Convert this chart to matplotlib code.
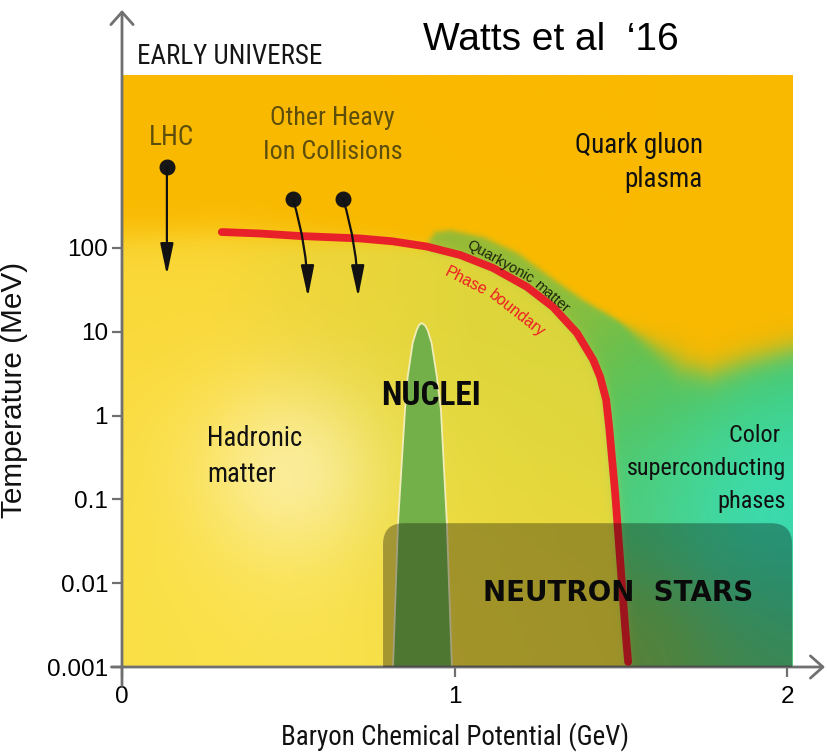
import numpy as np
import matplotlib
matplotlib.use("Agg")
import matplotlib.pyplot as plt
from matplotlib import font_manager
from matplotlib.patches import Polygon, FancyBboxPatch

# ---- phase boundary (baryon chemical potential in GeV, temperature in MeV)
mu_boundary = [0.30, 0.415, 0.535, 0.716, 0.815, 0.917, 1.017, 1.116, 1.218,
               1.296, 1.368, 1.417, 1.438, 1.456, 1.465, 1.483, 1.498, 1.513, 1.522]
T_boundary = [155, 149, 139, 130, 120, 104, 82.5, 57.7, 34.3,
              19.8, 9.69, 4.61, 2.89, 1.54, 0.731, 0.119, 0.0189, 0.0030, 0.00115]

# ---- nuclei region (left edge bottom->top, right edge top->bottom)
mu_nuclei = [0.815, 0.830, 0.851, 0.859, 0.874, 0.886, 0.893, 0.901,
             0.911, 0.919, 0.931, 0.947, 0.959, 0.977, 0.992]
T_nuclei = [0.001, 0.052, 1.17, 2.89, 7.35, 10.5, 12.0, 12.7,
            12.0, 10.5, 7.35, 2.89, 1.17, 0.052, 0.001]

# ---- neutron star window
mu_ns = (0.785, 2.015)
T_ns_top = 0.052

# ---- upper edge of the quarkyonic / colour superconducting region
mu_wave = [0.535, 0.911, 0.923, 0.941, 0.986, 1.086, 1.189, 1.287, 1.386,
           1.489, 1.588, 1.687, 1.768, 1.889, 2.009]
lt_wave = [1.379, 1.916, 2.095, 2.191, 2.215, 2.131, 1.940, 1.654, 1.379,
           1.141, 0.866, 0.592, 0.508, 0.663, 0.783]

# ---- collision trajectories: (mu, T start) -> (mu, T end)
lhc = ((0.135, 927.0), (0.135, 47.7))
heavy_ion = [((0.514, 385.0), (0.559, 26.0)),
             ((0.665, 385.0), (0.710, 26.0))]

yticks = [1e-3, 1e-2, 1e-1, 1, 10, 100]
ytick_labels = ["0.001", "0.01", "0.1", "1", "10", "100"]
xticks = [0, 1, 2]
xtick_labels = ["0", "1", "2"]

# ---- layout
W, H, DPI = 8.27, 7.52, 100
RECT = [122 / 827, 85 / 752, 703 / 827, 657 / 752]
XMAX = 2.114
LT_MIN, LT_MAX = -3.0, 4.84
MU_EDGE, LT_EDGE = 2.015, 4.064
PX_MU = RECT[2] * W * DPI / XMAX
PX_LT = RECT[3] * H * DPI / (LT_MAX - LT_MIN)
SANS = "Liberation Sans"


def condensed_font():
    fl = font_manager.fontManager.ttflist
    names = {f.name for f in fl}
    for n in ("Liberation Sans Narrow", "Arial Narrow", "Roboto Condensed",
              "Noto Sans Condensed", "Open Sans Condensed"):
        if n in names:
            return dict(family=n)
    for n in ("Noto Sans", "Roboto", "Open Sans"):
        if any(f.name == n and "condensed" in str(f.stretch) for f in fl):
            return dict(family=n, stretch="condensed")
    return dict(family=SANS)


NARROW = condensed_font()


def sigmoid(z):
    return 1.0 / (1.0 + np.exp(-np.clip(z, -40, 40)))


def poly_dist(M, L, xs, ls):
    """distance (display pixels) from grid points to a polyline"""
    px, py = M * PX_MU, L * PX_LT
    xs = np.asarray(xs) * PX_MU
    ys = np.asarray(ls) * PX_LT
    d = np.full(M.shape, np.inf)
    for i in range(len(xs) - 1):
        x0, y0, x1, y1 = xs[i], ys[i], xs[i + 1], ys[i + 1]
        vx, vy = x1 - x0, y1 - y0
        t = np.clip(((px - x0) * vx + (py - y0) * vy) / (vx * vx + vy * vy), 0, 1)
        d = np.minimum(d, np.hypot(px - x0 - t * vx, py - y0 - t * vy))
    return d


def rbf_colour(M, L, anchors, sigma):
    num = np.zeros(M.shape + (3,))
    den = np.zeros(M.shape)
    for (m0, l0), c in anchors:
        w = np.exp(-(((M - m0) * PX_MU) ** 2 + ((L - l0) * PX_LT) ** 2) / (2 * sigma ** 2))
        num += w[..., None] * np.array(c, float)
        den += w
    return num / den[..., None]


# ---- background colour field
nx, ny = 600, 560
M, L = np.meshgrid(np.linspace(0, MU_EDGE, nx), np.linspace(LT_MIN, LT_EDGE, ny))

lb = np.log10(T_boundary)
xb = np.r_[-0.5, mu_boundary, 1.53]
yb = np.r_[2.08, lb, -4.0]
inside = L < np.interp(M, xb, yb, right=-np.inf)
d_pb = poly_dist(M, L, xb, yb)
w_pb = np.interp(M, [0, 0.35, 0.7, 1.0, 2.0], [10, 10, 5, 2.5, 2.5])
h = sigmoid(np.where(inside, d_pb, -d_pb) / w_pb)

xw = np.r_[-0.5, mu_wave]
yw = np.r_[1.0, lt_wave]
below = L < np.interp(M, xw, yw)
d_w = poly_dist(M, L, xw, yw)
w_w = np.interp(M, [0, 1.5, 1.68, 2.1], [1.5, 1.5, 8, 8])
g = sigmoid(np.where(below, d_w, -d_w) / w_w)

hadron = rbf_colour(M, L, [
    ((0.054, 1.379), (250, 216, 56)),
    ((0.054, -0.500), (250, 222, 68)),
    ((0.054, -2.678), (250, 224, 70)),
    ((0.535, -2.678), (250, 226, 78)),
    ((0.776, 1.379), (240, 214, 58)),
    ((1.077, 1.260), (214, 212, 58)),
    ((1.317, -0.053), (220, 214, 60)),
    ((1.377, -1.723), (230, 215, 60)),
    ((1.077, -2.200), (242, 218, 60)),
    ((1.017, -0.410), (234, 219, 64)),
], 75)
glow = 0.75 * np.exp(-(((M - 0.505) * PX_MU) ** 2 + ((L + 0.649) * PX_LT) ** 2) / (2 * 65 ** 2))
hadron = hadron * (1 - glow[..., None]) + np.array([253, 242, 180]) * glow[..., None]

green = rbf_colour(M, L, [
    ((0.971, 2.095), (150, 186, 54)),
    ((1.317, 1.475), (148, 190, 58)),
    ((1.558, 0.902), (115, 190, 70)),
    ((1.588, -0.053), (85, 195, 90)),
    ((1.738, 0.305), (78, 196, 98)),
    ((1.949, 0.544), (68, 198, 108)),
    ((1.919, -0.768), (55, 228, 192)),
    ((1.850, -1.000), (60, 225, 185)),
    ((2.000, -0.450), (60, 215, 160)),
    ((1.708, -0.768), (68, 214, 150)),
    ((1.588, -1.126), (80, 200, 115)),
    ((1.950, -1.900), (50, 205, 170)),
    ((1.900, -2.700), (95, 200, 115)),
    ((1.600, -2.600), (130, 190, 80)),
], 55)
orange = np.array([250, 185, 0], float)

quark = g[..., None] * green + (1 - g[..., None]) * orange
field = h[..., None] * hadron + (1 - h[..., None]) * quark
field = np.clip(field / 255.0, 0, 1)

# ---- figure
fig = plt.figure(figsize=(W, H), dpi=DPI)
ax_bg = fig.add_axes(RECT, zorder=0)
ax_bg.imshow(field, origin="lower", extent=(0, MU_EDGE, LT_MIN, LT_EDGE),
             aspect="auto", interpolation="bilinear")
ax_bg.set_xlim(0, XMAX)
ax_bg.set_ylim(LT_MIN, LT_MAX)
ax_bg.axis("off")

ax = fig.add_axes(RECT, zorder=1)
ax.patch.set_alpha(0)
ax.set_yscale("log")
ax.set_xlim(0, XMAX)
ax.set_ylim(10 ** LT_MIN, 10 ** LT_MAX)
for s in ax.spines.values():
    s.set_visible(False)

axis_grey = "#707070"
ax.set_yticks(yticks, ytick_labels)
ax.set_xticks(xticks, xtick_labels)
ax.minorticks_off()
ax.tick_params(axis="y", direction="out", length=7, width=1.6, color=axis_grey,
               pad=3, labelsize=17.5, labelfontfamily=SANS)
ax.tick_params(axis="x", direction="out", length=7, width=1.6, color=axis_grey,
               pad=7, labelsize=17.5, labelfontfamily=SANS)

# axes drawn as arrows
arrow_kw = dict(arrowstyle="->,head_length=0.45,head_width=0.4", color=axis_grey,
                lw=2.0, mutation_scale=20, shrinkA=0, shrinkB=0)
ax.annotate("", xy=(0, 1.0), xytext=(0, -0.028), xycoords="axes fraction",
            arrowprops=arrow_kw, annotation_clip=False)
ax.annotate("", xy=(1.0, 0), xytext=(-0.015, 0), xycoords="axes fraction",
            arrowprops=arrow_kw, annotation_clip=False)

# nuclei
ax.add_patch(Polygon(np.column_stack([mu_nuclei, T_nuclei]), closed=True,
                     facecolor="#73b049", edgecolor="#f2ecb8", lw=1.3, zorder=2))

# phase boundary
ax.plot(mu_boundary, T_boundary, color="#e8202a", lw=5.6,
        solid_capstyle="round", zorder=3)

# neutron star window, rounded on top
to_ax = ax.transData + ax.transAxes.inverted()
(x0, y0) = to_ax.transform((mu_ns[0], 10 ** LT_MIN))
(x1, y1) = to_ax.transform((mu_ns[1], T_ns_top))
ns_box = FancyBboxPatch((x0, y0 - 0.06), x1 - x0, y1 - y0 + 0.06,
                        boxstyle="round,pad=0,rounding_size=0.03",
                        mutation_aspect=RECT[2] * W / (RECT[3] * H),
                        transform=ax.transAxes, facecolor="black", alpha=0.32,
                        edgecolor="none", zorder=4)
ax.add_patch(ns_box)
ns_box.set_clip_path(ax.patch)

# collision trajectories
for (start, end), rad in [(lhc, 0.0)] + [(hi, -0.07) for hi in heavy_ion]:
    ax.plot(*start, "o", ms=10.5, color="#161616", zorder=5)
    ax.annotate("", xy=end, xytext=start,
                arrowprops=dict(arrowstyle="-|>,head_length=0.95,head_width=0.2",
                                connectionstyle=f"arc3,rad={rad}", color="#111111",
                                lw=1.6, mutation_scale=20, shrinkA=0, shrinkB=0),
                zorder=5)

# labels; (text, target size in pixels, which side to fit)
fitted = []
dark_olive = "#5e4e0c"
t = ax.text(0.148, 10 ** 3.32, "LHC", fontsize=20, color=dark_olive,
            ha="center", va="center", **NARROW)
fitted.append((t, 45, "w"))
t = ax.text(0.633, 10 ** 3.35, "Other Heavy\nIon Collisions", fontsize=20,
            color=dark_olive, ha="center", va="center", linespacing=1.5, **NARROW)
fitted.append((t, 139, "w"))
t = ax.text(1.747, 10 ** 3.02, "Quark gluon\nplasma", fontsize=20,
            color="#111111", ha="right", va="center", multialignment="right",
            linespacing=1.3, **NARROW)
fitted.append((t, 128, "w"))
t = ax.text(0.256, 10 ** -0.49, "Hadronic\nmatter", fontsize=20,
            color="#111111", ha="left", va="center", linespacing=1.42, **NARROW)
fitted.append((t, 95, "w"))
t = ax.text(1.997, 10 ** -0.63, "Color \nsuperconducting\nphases", fontsize=20,
            color="#111111", ha="right", va="center", multialignment="right",
            linespacing=1.55, **NARROW)
fitted.append((t, 159, "w"))
t = ax.text(0.929, 10 ** 0.234, "NUCLEI", weight="bold", fontsize=25,
            color="#0a0a0a", ha="center", va="center", zorder=6, **NARROW)
fitted.append((t, 100, "w"))
ax.text(1.492, 10 ** -2.117, "NEUTRON  STARS", family="DejaVu Sans",
        weight="bold", fontsize=20, color="#0a0a0a", ha="center", va="center",
        zorder=6)

# curved labels along the phase boundary, split in two pieces each
for txt, mu, T, rot, fs, col in [
        ("Quarkyonic", 1.137, 68.1, -29, 10.5, "#1c240a"),
        ("matter", 1.290, 26.0, -41, 10.5, "#1c240a"),
        ("Phase", 1.035, 40.4, -27, 11.5, "#ee1c24"),
        ("boundary", 1.188, 16.7, -38, 11.5, "#ee1c24")]:
    ax.text(mu, T, txt, family=SANS, fontsize=fs, color=col, rotation=rot,
            rotation_mode="anchor", ha="center", va="center", zorder=6)

xl = ax.set_xlabel("Baryon Chemical Potential (GeV)", fontsize=20,
                   color="#111111", **NARROW)
fitted.append((xl, 347, "w"))
ax.xaxis.set_label_coords(0.4737, -0.084)
yl = ax.set_ylabel("Temperature (MeV)", family=SANS, fontsize=20.5, color="#111111")
fitted.append((yl, 256, "h"))
ax.yaxis.set_label_coords(-0.134, 0.4216)

t = fig.text(137 / 827, 1 - 57 / 752, "EARLY UNIVERSE", fontsize=18.7,
             color="#151515", ha="left", va="center", **NARROW)
fitted.append((t, 186, "w"))
t = fig.text(423 / 827, 1 - 40 / 752, "Watts et al  \u201816", family=SANS,
             fontsize=27, color="#000000", ha="left", va="center")
fitted.append((t, 256, "w"))

fig.canvas.draw()
renderer = fig.canvas.get_renderer()
for t, size, side in fitted:
    bb = t.get_window_extent(renderer)
    cur = bb.width if side == "w" else bb.height
    t.set_fontsize(t.get_fontsize() * size / cur)

fig.savefig("out.png", dpi=DPI)
